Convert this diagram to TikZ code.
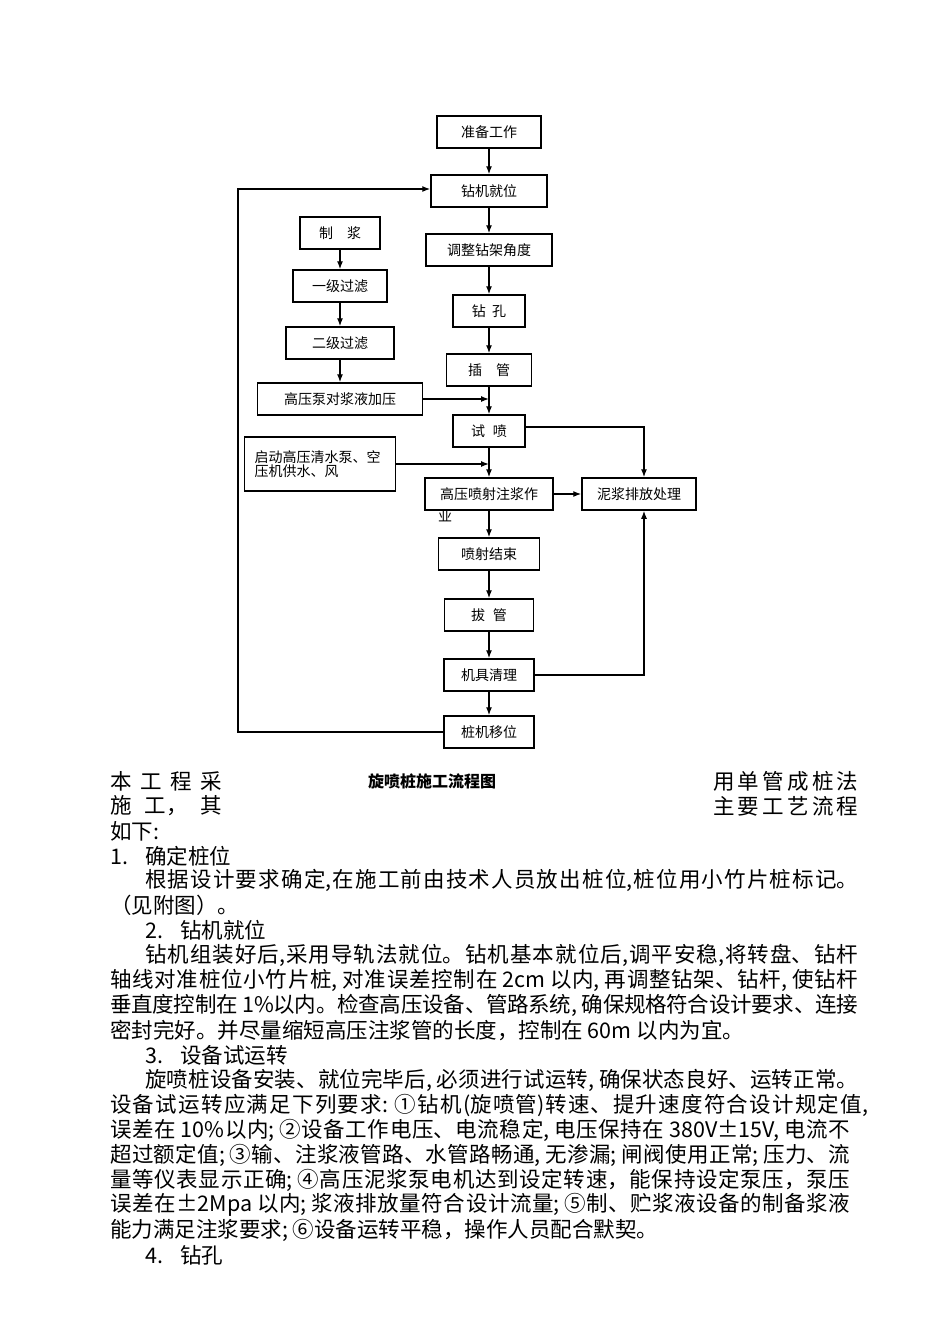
\documentclass[tikz,border=0pt]{standalone}
\usepackage{fontspec}
\setmainfont{Noto Sans CJK SC}
\usetikzlibrary{arrows.meta, calc}
\XeTeXlinebreaklocale "zh"
\XeTeXlinebreakskip=0pt plus 20pt minus 1pt

\begin{document}
\begin{tikzpicture}[x=1pt, y=-1pt, >={Latex[length=8pt, width=6pt]},
  box/.style={draw, line width=1.5pt, inner sep=0pt, minimum height=32pt, font=\fontsize{14}{14}\selectfont},
  flow/.style={->, line width=1.3pt},
  body/.style={anchor=west, inner sep=0pt, font=\fontsize{21.5}{24}\selectfont},
  jline/.style={body, text width=#1, align=justify, execute at begin node={\parfillskip=0pt\relax}},
  caption/.style={inner sep=0pt, font=\fontsize{16}{16}\selectfont\bfseries}]
\fill[white] (0,0) rectangle (950,1344);
\useasboundingbox (0,0) rectangle (950,1344);

\node[box, minimum width=104pt] (prep) at (489,132) {准备工作};
\node[box, minimum width=116pt] (locate) at (489,191) {钻机就位};
\node[box, minimum width=126pt] (adjust) at (489,250) {调整钻架角度};
\node[box, minimum width=72pt] (drill) at (489,311) {钻\hspace{0.45em}孔};
\node[box, minimum width=85pt] (insert) at (489,370) {插　管};
\node[box, minimum width=72pt] (trial) at (489,431) {试\hspace{0.55em}喷};
\node[box, minimum width=128pt] (jet) at (489,494) {高压喷射注浆作};
\node[inner sep=0pt, font=\fontsize{14}{14}\selectfont] (jetwrap) at (445,516) {业};
\node[box, minimum width=101pt] (finish) at (489,554) {喷射结束};
\node[box, minimum width=89pt] (pull) at (489,615) {拔\hspace{0.55em}管};
\node[box, minimum width=90pt] (clean) at (489,675) {机具清理};
\node[box, minimum width=90pt] (move) at (489,732) {桩机移位};

\node[box, minimum width=80pt] (slurry) at (340,233) {制　浆};
\node[box, minimum width=94pt] (filter1) at (340,286) {一级过滤};
\node[box, minimum width=108pt] (filter2) at (340,343) {二级过滤};
\node[box, minimum width=165pt] (pump) at (340,399) {高压泵对浆液加压};
\node[box, minimum height=54pt, inner xsep=10pt, text width=131pt, align=left, font=\fontsize{14}{13.5}\selectfont] (water) at (320,464) {启动高压清水泵、空\\压机供水、风};
\node[box, minimum width=114pt] (mud) at (639,494) {泥浆排放处理};

\coordinate (rail) at (238,732);

\draw[flow] (prep) -- (locate);
\draw[flow] (locate) -- (adjust);
\draw[flow] (adjust) -- (drill);
\draw[flow] (drill) -- (insert);
\draw[flow] (insert) -- (trial);
\draw[flow] (trial) -- (jet);
\draw[flow] (jet) -- (finish);
\draw[flow] (finish) -- (pull);
\draw[flow] (pull) -- (clean);
\draw[flow] (clean) -- (move);
\draw[flow] (slurry) -- (filter1);
\draw[flow] (filter1) -- (filter2);
\draw[flow] (filter2) -- (pump);
\draw[flow] (pump.east) -- (pump.east -| insert.south);
\draw[flow] (water.east) -- (water.east -| trial.south);
\draw[flow] (jet.east) -- (mud.west);
\draw[flow] ([yshift=4pt]trial.east) -| ([xshift=5pt]mud.north);
\draw[flow] (clean.east) -| ([xshift=5pt]mud.south);
\draw[flow] (move.west) -- (rail) |- ([yshift=2pt]locate.west);

\node[jline=112pt] (l1a) at (110,781) {本工程采};
\node[caption] (caption) at (432,781) {旋喷桩施工流程图};
\node[jline=145pt] (l1b) at (713,781) {用单管成桩法};
\node[jline=112pt] (l2a) at (110,806) {施工，其};
\node[jline=145pt] (l2b) at (713,806) {主要工艺流程};
\node[body] (l3) at (110,831) {如下:};
\node[body] (l4) at (110,856) {\makebox[35pt][l]{1.}确定桩位};
\node[jline=713pt] (l5) at (145,880) {根据设计要求确定,在施工前由技术人员放出桩位,桩位用小竹片桩标记。};
\node[body] (l6) at (110,905) {（见附图）。};
\node[body] (l7) at (145,930) {\makebox[35pt][l]{2.}钻机就位};
\node[jline=713pt] (l8) at (145,955) {钻机组装好后,采用导轨法就位。钻机基本就位后,调平安稳,将转盘、钻杆};
\node[jline=748pt] (l9) at (110,980) {轴线对准桩位小竹片桩, 对准误差控制在 2cm 以内, 再调整钻架、钻杆, 使钻杆};
\node[jline=748pt] (l10) at (110,1005) {垂直度控制在 1\%以内。检查高压设备、管路系统, 确保规格符合设计要求、连接};
\node[body] (l11) at (110,1030) {密封完好。并尽量缩短高压注浆管的长度，控制在 60m 以内为宜。};
\node[body] (l12) at (145,1055) {\makebox[35pt][l]{3.}设备试运转};
\node[jline=713pt] (l13) at (145,1080) {旋喷桩设备安装、就位完毕后, 必须进行试运转, 确保状态良好、运转正常。};
\node[jline=758pt] (l14) at (110,1105) {设备试运转应满足下列要求: ①钻机(旋喷管)转速、提升速度符合设计规定值,};
\node[jline=740pt] (l15) at (110,1130) {误差在 10\%以内; ②设备工作电压、电流稳定, 电压保持在 380V±15V, 电流不};
\node[jline=740pt] (l16) at (110,1155) {超过额定值; ③输、注浆液管路、水管路畅通, 无渗漏; 闸阀使用正常; 压力、流};
\node[jline=740pt] (l17) at (110,1180) {量等仪表显示正确; ④高压泥浆泵电机达到设定转速，能保持设定泵压，泵压};
\node[jline=740pt] (l18) at (110,1205) {误差在±2Mpa 以内; 浆液排放量符合设计流量; ⑤制、贮浆液设备的制备浆液};
\node[body] (l19) at (110,1230) {能力满足注浆要求; ⑥设备运转平稳，操作人员配合默契。};
\node[body] (l20) at (145,1255) {\makebox[35pt][l]{4.}钻孔};
\end{tikzpicture}
\end{document}
